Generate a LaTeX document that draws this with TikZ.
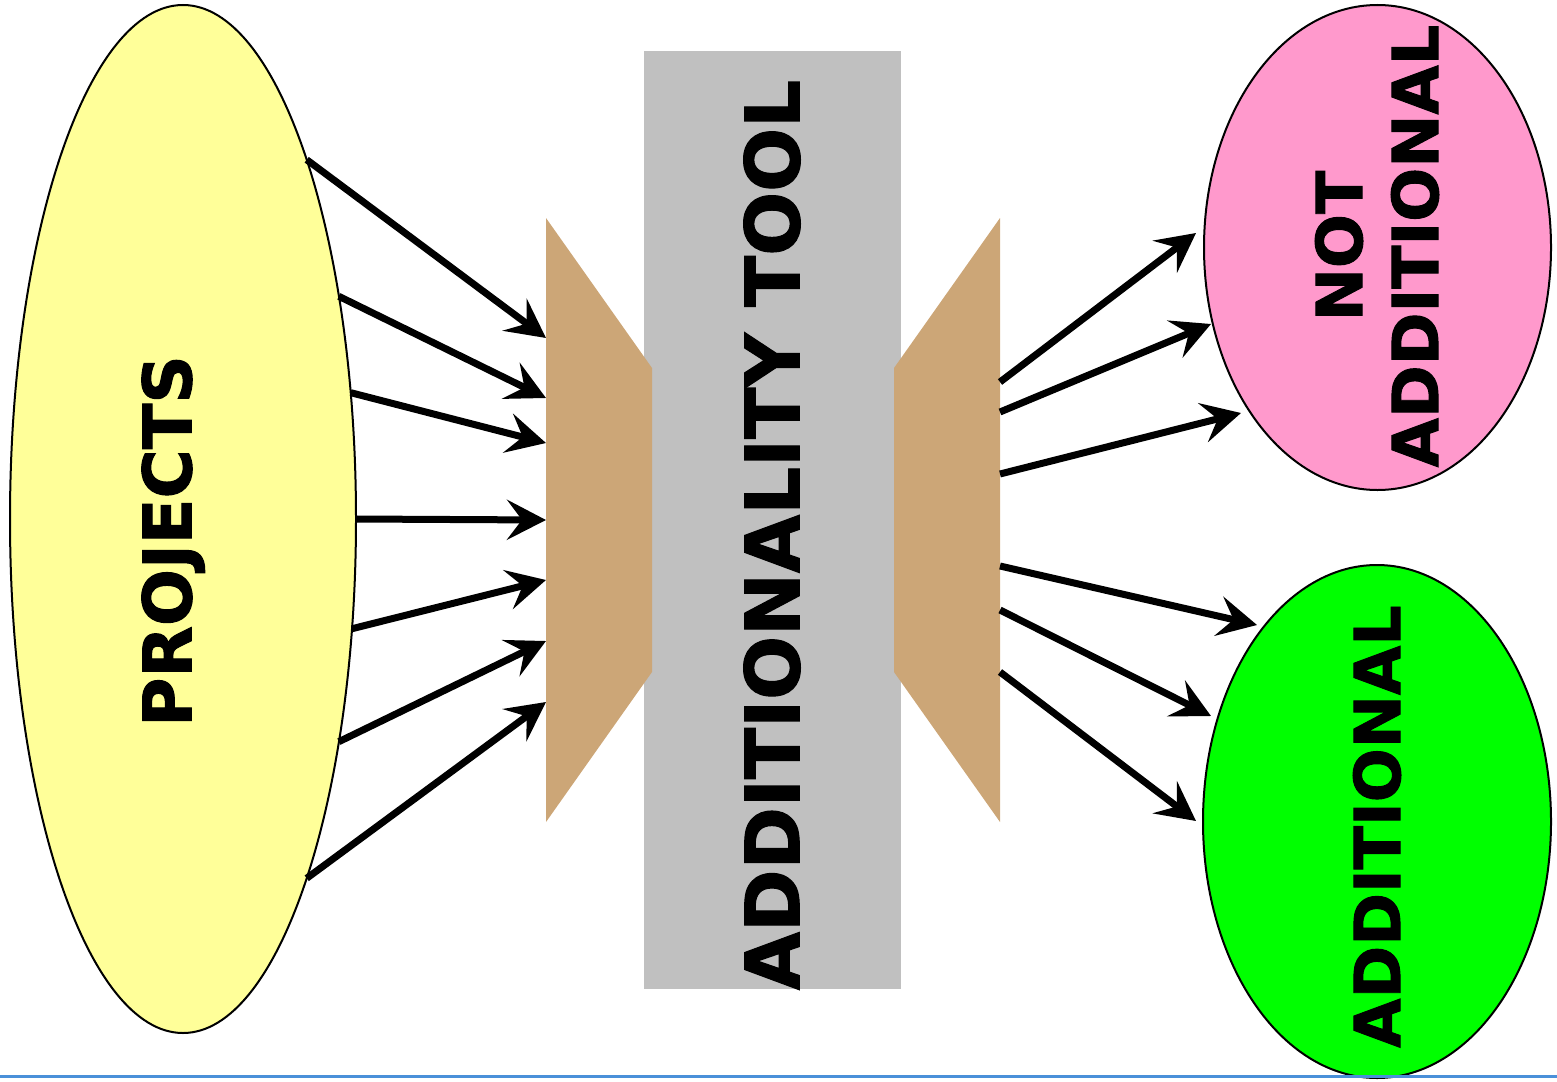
\documentclass[tikz,border=0pt]{standalone}
\usepackage{fontspec}
\setsansfont{DejaVu Sans}[BoldFeatures={FakeBold=1.5}]
\usetikzlibrary{shapes.geometric,arrows.meta}
\definecolor{projyellow}{HTML}{FFFF99}
\definecolor{toolgray}{HTML}{C0C0C0}
\definecolor{funneltan}{HTML}{CCA677}
\definecolor{notpink}{HTML}{FF99CC}
\definecolor{addgreen}{HTML}{00FF00}
\definecolor{rulerblue}{HTML}{4A90D9}
\begin{document}
\begin{tikzpicture}[x=0.5pt,y=-0.5pt,
  blob/.style={ellipse,draw=black,line width=1pt,inner sep=0pt,outer sep=0pt},
  flow/.style={line width=3.5pt,-{Stealth[length=19.5pt,width=20pt,inset=7.5pt]}},
  funnel/.style={fill=funneltan,draw=none},
  bigtext/.style={font=\sffamily\bfseries,inner sep=0pt,rotate=90,anchor=center}]
\useasboundingbox (0,0) rectangle (1557,1081);
% ellipses
\node[blob,fill=projyellow,minimum width=173pt,minimum height=514pt] (proj) at (183,519) {};
\node[blob,fill=notpink,minimum width=173.5pt,minimum height=242.5pt] (notadd) at (1377.5,247.5) {};
\node[blob,fill=addgreen,minimum width=174pt,minimum height=256.5pt] (add) at (1377,821.5) {};
% tool bar
\node[fill=toolgray,draw=none,minimum width=128.5pt,minimum height=469pt,inner sep=0pt] (tool) at (772.5,520) {};
% funnels
\path[funnel] (546,218) -- (652,368) -- (652,672) -- (546,822) -- cycle;
\path[funnel] (1000,218) -- (894,368) -- (894,672) -- (1000,822) -- cycle;
% texts
\node[bigtext,text depth=0pt,font=\sffamily\bfseries\fontsize{33.5}{40}\selectfont] (projlabel) at (166.5,541) {PROJECTS};
\node[bigtext,font=\sffamily\bfseries\fontsize{37.6}{45}\selectfont] (toollabel) at (772,535) {ADDITIONALITY TOOL};
\node[bigtext,align=center,font=\sffamily\bfseries\fontsize{31.8}{38}\selectfont] (notlabel) at (1377,246) {NOT\\ADDITIONAL};
\node[bigtext,font=\sffamily\bfseries\fontsize{31.8}{38}\selectfont] (addlabel) at (1377,826.5) {ADDITIONAL};
% coordinates on the funnels
\coordinate (l1) at (546,338);
\coordinate (l2) at (546,398);
\coordinate (l3) at (546,443);
\coordinate (l4) at (546,520);
\coordinate (l5) at (546,580);
\coordinate (l6) at (546,641);
\coordinate (l7) at (546,702);
\coordinate (r1) at (1000,382);
\coordinate (r2) at (1000,412);
\coordinate (r3) at (1000,474);
\coordinate (r4) at (1000,566);
\coordinate (r5) at (1000,610);
\coordinate (r6) at (1000,672);
\coordinate (t1) at (1196,233);
\coordinate (t2) at (1211,324);
\coordinate (t3) at (1241,413);
\coordinate (t4) at (1257,625);
\coordinate (t5) at (1211,716);
\coordinate (t6) at (1196,821);
% arrows in
\draw[flow] (proj.71) -- (l1);
\draw[flow] (proj.55) -- (l2);
\draw[flow] (proj.37) -- (l3);
\draw[flow] (proj.0) -- (l4);
\draw[flow] (proj.-33) -- (l5);
\draw[flow] (proj.-55) -- (l6);
\draw[flow] (proj.-71) -- (l7);
% arrows out
\draw[flow] (r1) -- (t1);
\draw[flow] (r2) -- (t2);
\draw[flow] (r3) -- (t3);
\draw[flow] (r4) -- (t4);
\draw[flow] (r5) -- (t5);
\draw[flow] (r6) -- (t6);
% bottom rule
\coordinate (ruleL) at (0,1076);
\coordinate (ruleR) at (1557,1076);
\draw[rulerblue,line width=1.5pt] (ruleL) -- (ruleR);
\end{tikzpicture}
\end{document}
